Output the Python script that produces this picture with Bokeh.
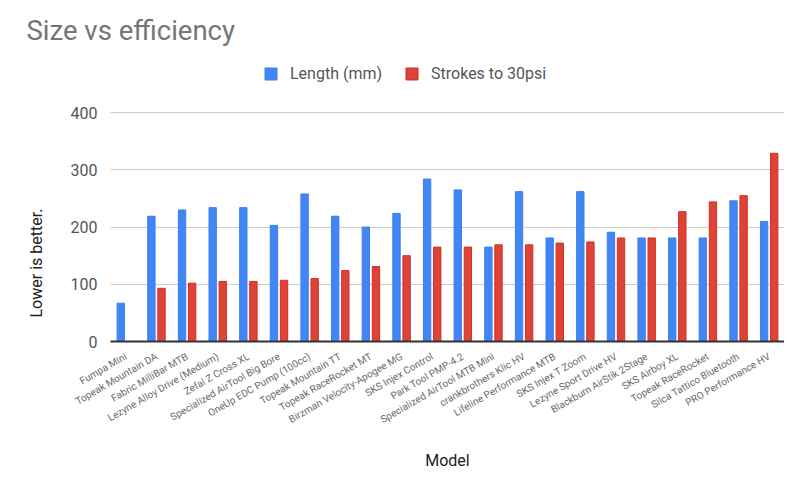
import math
from bokeh.plotting import figure
from bokeh.models import ColumnDataSource, FactorRange, Range1d, FixedTicker, Title, Legend, LegendItem
from bokeh.transform import dodge
from bokeh.embed import file_html
from bokeh.resources import INLINE

models = ["Fumpa Mini", "Topeak Mountain DA", "Fabric MilliBar MTB", "Lezyne Alloy Drive (Medium)",
          "Zefal Z Cross XL", "Specialized AirTool Big Bore", "OneUp EDC Pump (100cc)",
          "Topeak Mountain TT", "Topeak RaceRocket MT", "Birzman Velocity-Apogee MG",
          "SKS Injex Control", "Park Tool PMP-4.2", "Specialized AirTool MTB Mini",
          "crankbrothers Klic HV", "Lifeline Performance MTB", "SKS Injex T Zoom",
          "Lezyne Sport Drive HV", "Blackburn AirStik 2Stage", "SKS Airboy XL",
          "Topeak RaceRocket", "Silca Tattico Bluetooth", "PRO Performance HV"]
length_mm = [67, 219, 230, 234, 234, 203, 258, 219, 200, 224, 284, 265, 165, 262, 181, 262,
             191, 181, 181, 181, 246, 210]
strokes_30psi = [float("nan"), 93, 102, 105, 105, 107, 110, 124, 131, 150, 165, 165, 169, 169,
                 172, 174, 181, 181, 227, 244, 255, 329]
y_ticks = [0, 100, 200, 300, 400]

source = ColumnDataSource(dict(model=models, length=length_mm, strokes=strokes_30psi))

# the value range stops at 400 (top gridline); extra room above the last gridline holds the legend
p = figure(x_range=FactorRange(factors=models, range_padding=0), y_range=Range1d(0, 500),
           frame_width=674, frame_height=286, output_backend="svg", toolbar_location=None,
           min_border_left=110, min_border_right=0, min_border_top=55, min_border_bottom=127,
           title="Size vs efficiency")

r1 = p.vbar(x=dodge("model", -0.165, range=p.x_range), top="length", width=0.24, source=source,
            fill_color="#4285F4", line_color="#3b7ff0")
r2 = p.vbar(x=dodge("model", 0.165, range=p.x_range), top="strokes", width=0.24, source=source,
            fill_color="#DB4437", line_color="#d92b20")

p.title.text_font = "Roboto"
p.title.text_font_size = "27.5px"
p.title.text_font_style = "normal"
p.title.text_color = "#757575"
p.title.align = "left"
p.title.offset = -84
p.title.standoff = 18

p.outline_line_color = None
p.background_fill_color = "white"

p.xgrid.grid_line_color = None
p.ygrid.grid_line_color = "#cccccc"
p.ygrid.grid_line_width = 1

p.yaxis.ticker = FixedTicker(ticks=y_ticks)
p.yaxis.axis_line_color = None
p.yaxis.major_tick_line_color = None
p.yaxis.major_tick_out = 0
p.yaxis.major_tick_in = 0
p.yaxis.minor_tick_line_color = None
p.yaxis.major_label_text_font = "Roboto"
p.yaxis.major_label_text_font_size = "16px"
p.yaxis.major_label_text_color = "#555555"
p.yaxis.major_label_standoff = 13

p.xaxis.axis_line_color = "#333333"
p.xaxis.axis_line_width = 2
p.xaxis.major_tick_line_color = None
p.xaxis.minor_tick_line_color = None
p.xaxis.major_label_orientation = math.pi / 6
p.xaxis.major_label_text_font = "Roboto"
p.xaxis.major_label_text_font_size = "10px"
p.xaxis.major_label_text_color = "#6a6a6a"
p.xaxis.major_label_standoff = 8
p.xaxis.axis_label = "Model"
p.xaxis.axis_label_text_font = "Roboto"
p.xaxis.axis_label_text_font_size = "16px"
p.xaxis.axis_label_text_font_style = "normal"
p.xaxis.axis_label_text_color = "#222222"
p.xaxis.axis_label_standoff = 18

ylab = Title(text="Lower is better.", text_font="Roboto", text_font_size="16px",
             text_font_style="normal", text_color="#222222", align="left", offset=24,
             standoff=43)
p.add_layout(ylab, "left")

lg = Legend(items=[LegendItem(label="Length (mm)", renderers=[r1]),
                   LegendItem(label="Strokes to 30psi", renderers=[r2])],
            location=(153, 258), orientation="horizontal", padding=0, margin=0, spacing=22,
            border_line_color=None, background_fill_alpha=0, glyph_width=15, glyph_height=15,
            label_height=15, label_standoff=12, label_text_font="Roboto",
            label_text_font_size="16px", label_text_color="#555555",
            label_text_baseline="middle")
p.add_layout(lg, "center")

open("out.html", "w").write(file_html(p, INLINE))
